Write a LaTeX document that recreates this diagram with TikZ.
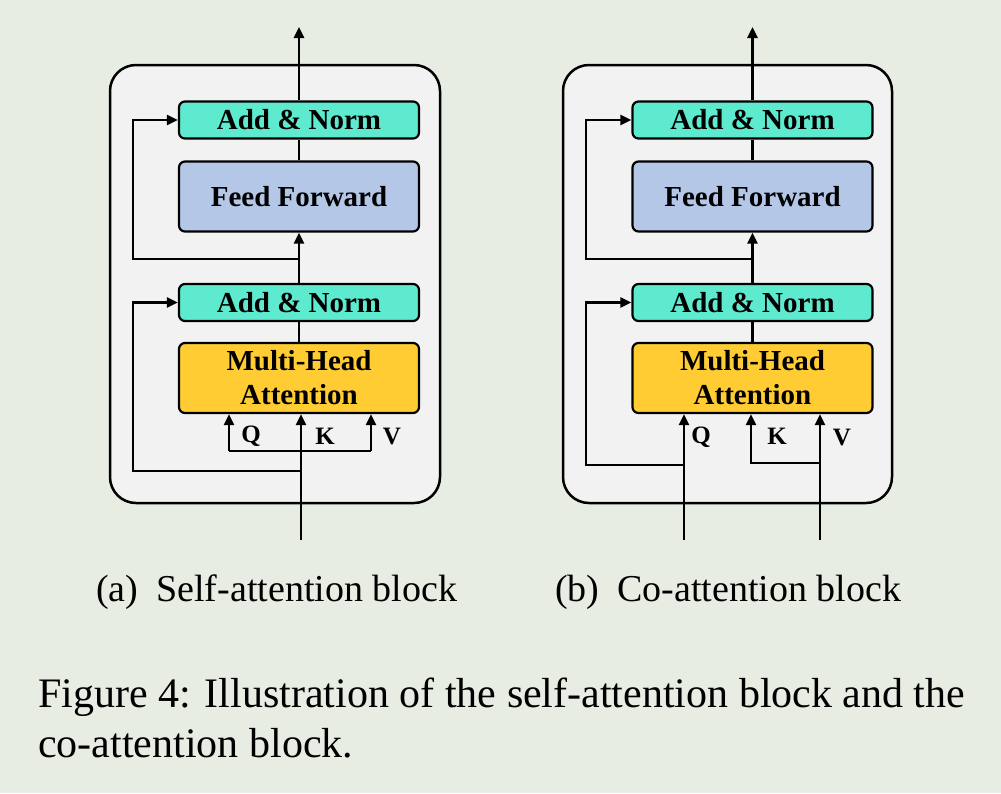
\documentclass[tikz,border=0pt]{standalone}
\usepackage{fontspec}
\setmainfont{Liberation Serif}
\usetikzlibrary{arrows.meta, positioning}

\definecolor{bgcol}{HTML}{E8EDE3}
\definecolor{panelcol}{HTML}{F2F2F2}
\definecolor{normcol}{HTML}{5EEACF}
\definecolor{ffcol}{HTML}{B4C7E7}
\definecolor{mhacol}{HTML}{FFCD33}

\tikzset{
    block/.style={draw, line width=2.2pt, rounded corners=6pt, minimum width=240pt,
        align=center, font=\fontsize{29}{34}\selectfont\bfseries},
    addnorm/.style={block, fill=normcol, minimum height=37pt},
    ffbox/.style={block, fill=ffcol, minimum height=70pt},
    mhabox/.style={block, fill=mhacol, minimum height=70pt, inner sep=1pt},
    panel/.style={draw, line width=2.5pt, fill=panelcol, rounded corners=26pt},
    wire/.style={line width=2.5pt},
    arr/.style={wire, -{Triangle[length=11pt,width=10pt]}},
    qkv/.style={font=\fontsize{25}{25}\selectfont\bfseries, inner sep=0pt},
    subcap/.style={anchor=base west, inner sep=0pt, font=\fontsize{38}{44}\selectfont},
    figcap/.style={anchor=base west, inner sep=0pt, font=\fontsize{42}{50}\selectfont}
}

\begin{document}
\begin{tikzpicture}[x=1pt, y=-1pt]
        \fill[bgcol] (0,0) rectangle (1001,793);
        \useasboundingbox (0,0) rectangle (1001,793);

        % (a) self-attention block
        \draw[panel] (110,65) rectangle (440,503);

        \node[addnorm] (ANa2) at (299,120) {Add \& Norm};
        \node[ffbox] (FFa) at (299,196.5) {Feed Forward};
        \node[addnorm] (ANa1) at (299,302.5) {Add \& Norm};
        \node[mhabox] (MHAa) at (299,378) {Multi-Head\\Attention};

        \coordinate (OUTa) at (299,27);
        \coordinate (INa) at (301,540);
        \coordinate (Ra2) at (299,259);
        \coordinate (La2) at (133,120);
        \coordinate (Ra1) at (301,471);
        \coordinate (La1) at (133,302.5);
        \coordinate (Qa) at (229,451);
        \coordinate (Va) at (371,451);

        \draw[arr] (ANa2.north) -- (OUTa);
        \draw[wire] (FFa.north) -- (ANa2.south);
        \draw[arr] (ANa1.north) -- (FFa.south);
        \draw[arr] (Ra2) -| (La2) -- (ANa2.west);
        \draw[wire] (MHAa.north) -- (ANa1.south);
        \draw[arr] (Ra1) -| (La1) -- (ANa1.west);
        \draw[arr] (INa) -- (INa |- MHAa.south);
        \draw[wire] (Qa) -- (Va);
        \draw[arr] (Qa) -- (Qa |- MHAa.south);
        \draw[arr] (Va) -- (Va |- MHAa.south);

        \node[qkv] (Qla) at (251,436) {Q};
        \node[qkv] (Kla) at (325,436) {K};
        \node[qkv] (Vla) at (392,436) {V};

        % (b) co-attention block
        \draw[panel] (563,65) rectangle (892,503);

        \node[addnorm] (ANb2) at (752.5,120) {Add \& Norm};
        \node[ffbox] (FFb) at (752.5,196.5) {Feed Forward};
        \node[addnorm] (ANb1) at (752.5,302.5) {Add \& Norm};
        \node[mhabox] (MHAb) at (752.5,378) {Multi-Head\\Attention};

        \coordinate (OUTb) at (752.5,27);
        \coordinate (Ra2b) at (752.5,259);
        \coordinate (La2b) at (586,120);
        \coordinate (INq) at (684,540);
        \coordinate (Rq) at (684,465);
        \coordinate (La1b) at (586,302.5);
        \coordinate (INv) at (820,540);
        \coordinate (Rv) at (820,463);
        \coordinate (Kb) at (751,463);

        \draw[arr] (ANb2.north) -- (OUTb);
        \draw[wire] (FFb.north) -- (ANb2.south);
        \draw[arr] (ANb1.north) -- (FFb.south);
        \draw[arr] (Ra2b) -| (La2b) -- (ANb2.west);
        \draw[wire] (MHAb.north) -- (ANb1.south);
        \draw[arr] (Rq) -| (La1b) -- (ANb1.west);
        \draw[arr] (INq) -- (INq |- MHAb.south);
        \draw[arr] (INv) -- (INv |- MHAb.south);
        \draw[arr] (Rv) -- (Kb) -- (Kb |- MHAb.south);

        \node[qkv] (Qlb) at (701,437) {Q};
        \node[qkv] (Klb) at (777,436) {K};
        \node[qkv] (Vlb) at (842,437) {V};

        % captions
        \node[subcap] (capa) at (96,601) {(a)\hspace{18pt}Self-attention block};
        \node[subcap] (capb) at (555,601) {(b)\hspace{18pt}Co-attention block};
        \node[figcap] (fig1) at (38,707)
            {\makebox[927pt][s]{Figure 4: Illustration of the self-attention block and the}};
        \node[figcap] (fig2) at (38,757) {co-attention block.};
\end{tikzpicture}
\end{document}
